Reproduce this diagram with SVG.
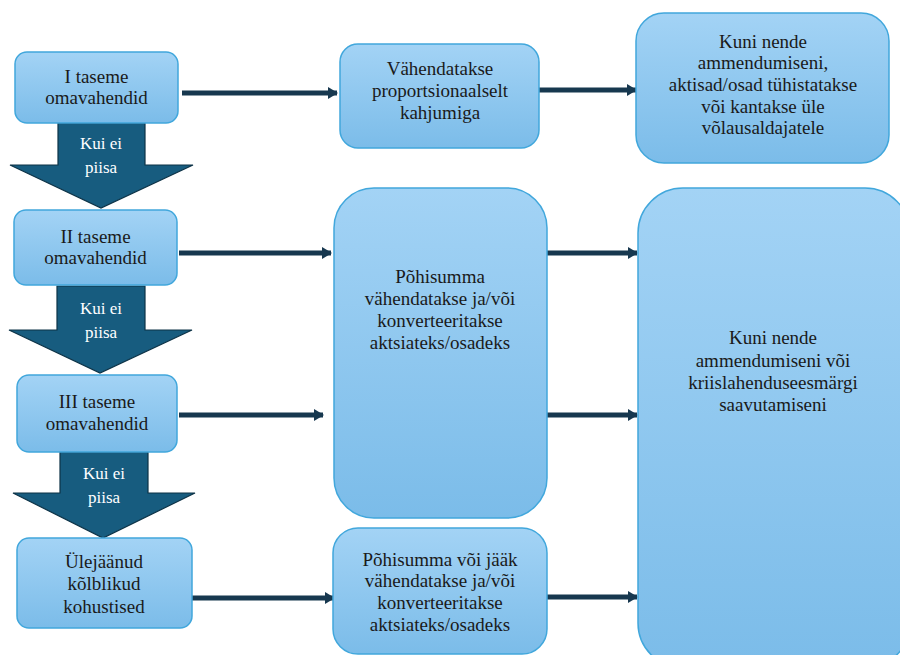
<svg xmlns="http://www.w3.org/2000/svg" width="900" height="655" viewBox="0 0 900 655">
<defs>
<linearGradient id="g" x1="0" y1="0" x2="0" y2="1">
<stop offset="0" stop-color="#a3d3f5"/>
<stop offset="1" stop-color="#7bbce9"/>
</linearGradient>
<marker id="ah" markerUnits="userSpaceOnUse" markerWidth="10" markerHeight="12" refX="9" refY="6" orient="auto">
<path d="M0,0 L10,6 L0,12 Z" fill="#17384f"/>
</marker>
<style>
.box{fill:url(#g);stroke:#41a7dc;stroke-width:1.5}
.t{font-family:"Liberation Serif","Times New Roman",serif;font-size:19px;fill:#1a1a1a;text-anchor:middle}
.dn{fill:#175c7f;stroke:#0d3347;stroke-width:1.2}
.w{font-family:"Liberation Serif","Times New Roman",serif;font-size:17px;fill:#ffffff;text-anchor:middle}
.c{stroke:#17384f;stroke-width:5;fill:none;marker-end:url(#ah)}
</style>
</defs>
<rect width="900" height="655" fill="#ffffff"/>

<g id="connectors">
<line class="c" x1="182" y1="93" x2="337" y2="93"/>
<line class="c" x1="539" y1="90" x2="636" y2="90"/>
<line class="c" x1="179" y1="253" x2="331" y2="253"/>
<line class="c" x1="179" y1="415" x2="323" y2="415"/>
<line class="c" x1="547" y1="253" x2="637" y2="253"/>
<line class="c" x1="547" y1="415" x2="637" y2="415"/>
<line class="c" x1="192" y1="598" x2="334" y2="598"/>
<line class="c" x1="547" y1="597" x2="637" y2="597"/>
</g>

<g id="down1">
<path class="dn" d="M58,123 H145 V165 H193 L101,208 L10,165 H58 Z"/>
<text class="w" x="101" y="149">Kui ei</text>
<text class="w" x="101" y="173">piisa</text>
</g>
<g id="down2">
<path class="dn" d="M57,286 H145 V330 H192 L100,373 L9,330 H57 Z"/>
<text class="w" x="101" y="314">Kui ei</text>
<text class="w" x="101" y="338">piisa</text>
</g>
<g id="down3">
<path class="dn" d="M60,452 H148 V493 H195 L103,538 L13,493 H60 Z"/>
<text class="w" x="104" y="479">Kui ei</text>
<text class="w" x="104" y="503">piisa</text>
</g>

<g id="n1">
<rect class="box" x="15" y="52" width="163" height="71" rx="12"/>
<text class="t" x="96.5" y="83">I taseme</text>
<text class="t" x="96.5" y="104">omavahendid</text>
</g>
<g id="n2">
<rect class="box" x="14" y="210" width="163" height="75" rx="12"/>
<text class="t" x="95.5" y="243">II taseme</text>
<text class="t" x="95.5" y="264">omavahendid</text>
</g>
<g id="n3">
<rect class="box" x="17" y="375" width="160" height="77" rx="12"/>
<text class="t" x="97" y="408">III taseme</text>
<text class="t" x="97" y="430">omavahendid</text>
</g>
<g id="n4">
<rect class="box" x="17" y="538" width="175" height="90" rx="12"/>
<text class="t" x="104" y="568">Ülejäänud</text>
<text class="t" x="104" y="590">kõlblikud</text>
<text class="t" x="104" y="613">kohustised</text>
</g>

<g id="n5">
<rect class="box" x="340" y="44" width="199" height="104" rx="18"/>
<text class="t" x="440" y="75">Vähendatakse</text>
<text class="t" x="440" y="97">proportsionaalselt</text>
<text class="t" x="440" y="119">kahjumiga</text>
</g>
<g id="n6">
<rect class="box" x="636" y="13" width="253" height="150" rx="28"/>
<text class="t" x="763" y="48">Kuni nende</text>
<text class="t" x="763" y="69">ammendumiseni,</text>
<text class="t" x="763" y="91">aktisad/osad tühistatakse</text>
<text class="t" x="763" y="113">või kantakse üle</text>
<text class="t" x="763" y="134">võlausaldajatele</text>
</g>
<g id="n7">
<rect class="box" x="334" y="188" width="213" height="330" rx="40"/>
<text class="t" x="440" y="283">Põhisumma</text>
<text class="t" x="440" y="305">vähendatakse ja/või</text>
<text class="t" x="440" y="327">konverteeritakse</text>
<text class="t" x="440" y="349">aktsiateks/osadeks</text>
</g>
<g id="n8">
<rect class="box" x="638" y="188" width="272" height="480" rx="45"/>
<text class="t" x="773" y="344">Kuni nende</text>
<text class="t" x="773" y="367">ammendumiseni või</text>
<text class="t" x="773" y="389">kriislahenduseesmärgi</text>
<text class="t" x="773" y="411">saavutamiseni</text>
</g>
<g id="n9">
<rect class="box" x="333" y="528" width="214" height="126" rx="25"/>
<text class="t" x="440" y="566">Põhisumma või jääk</text>
<text class="t" x="440" y="587">vähendatakse ja/või</text>
<text class="t" x="440" y="609">konverteeritakse</text>
<text class="t" x="440" y="631">aktsiateks/osadeks</text>
</g>
</svg>
